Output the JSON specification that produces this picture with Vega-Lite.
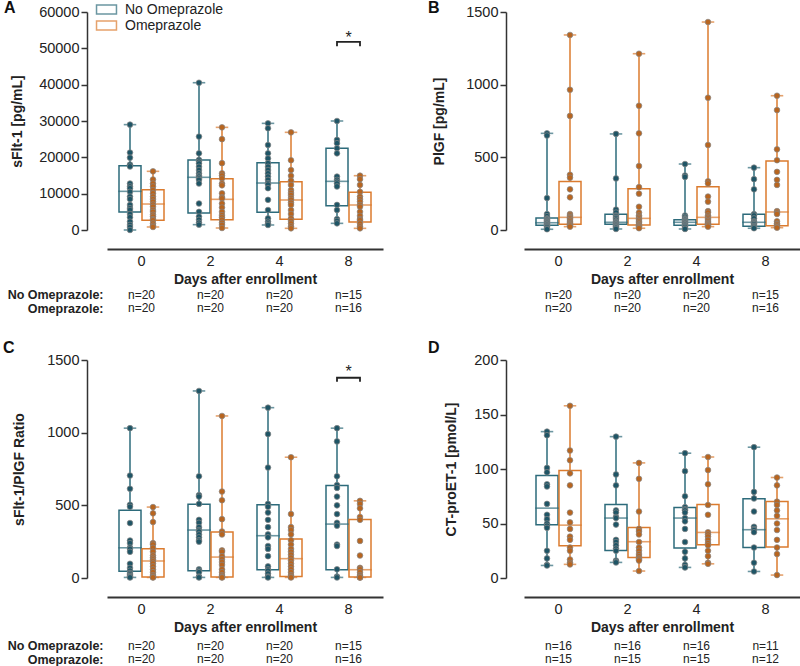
{
"$schema": "https://vega.github.io/schema/vega-lite/v6.json",
"padding": {"left": 3, "top": 0, "right": 0, "bottom": 0},
"autosize": {"type": "pad"},
"datasets": {
"boxes": [
{"panel":"A","day":"0","group":"No Omeprazole","min":0,"q1":4950,"median":10640,"q3":17700,"max":29000,"nlabel":"n=20"},
{"panel":"A","day":"0","group":"Omeprazole","min":830,"q1":2660,"median":7150,"q3":11100,"max":16150,"nlabel":"n=20"},
{"panel":"A","day":"2","group":"No Omeprazole","min":1470,"q1":4680,"median":14500,"q3":19260,"max":40540,"nlabel":"n=20"},
{"panel":"A","day":"2","group":"Omeprazole","min":550,"q1":2840,"median":8440,"q3":14130,"max":28250,"nlabel":"n=20"},
{"panel":"A","day":"4","group":"No Omeprazole","min":1380,"q1":4860,"median":12930,"q3":18530,"max":29350,"nlabel":"n=20"},
{"panel":"A","day":"4","group":"Omeprazole","min":460,"q1":2940,"median":8260,"q3":13300,"max":26880,"nlabel":"n=20"},
{"panel":"A","day":"8","group":"No Omeprazole","min":1830,"q1":6700,"median":13390,"q3":22480,"max":30000,"nlabel":"n=15"},
{"panel":"A","day":"8","group":"Omeprazole","min":460,"q1":2200,"median":6880,"q3":10370,"max":14950,"nlabel":"n=16"},
{"panel":"B","day":"0","group":"No Omeprazole","min":5,"q1":32,"median":50,"q3":83,"max":665,"nlabel":"n=20"},
{"panel":"B","day":"0","group":"Omeprazole","min":23,"q1":39,"median":87,"q3":333,"max":1342,"nlabel":"n=20"},
{"panel":"B","day":"2","group":"No Omeprazole","min":7,"q1":39,"median":53,"q3":108,"max":661,"nlabel":"n=20"},
{"panel":"B","day":"2","group":"Omeprazole","min":12,"q1":34,"median":80,"q3":284,"max":1213,"nlabel":"n=20"},
{"panel":"B","day":"4","group":"No Omeprazole","min":7,"q1":32,"median":53,"q3":71,"max":454,"nlabel":"n=20"},
{"panel":"B","day":"4","group":"Omeprazole","min":23,"q1":39,"median":87,"q3":298,"max":1431,"nlabel":"n=20"},
{"panel":"B","day":"8","group":"No Omeprazole","min":12,"q1":25,"median":53,"q3":108,"max":429,"nlabel":"n=15"},
{"panel":"B","day":"8","group":"Omeprazole","min":16,"q1":30,"median":124,"q3":475,"max":924,"nlabel":"n=16"},
{"panel":"C","day":"0","group":"No Omeprazole","min":4,"q1":46,"median":208,"q3":467,"max":1031,"nlabel":"n=20"},
{"panel":"C","day":"0","group":"Omeprazole","min":4,"q1":7,"median":117,"q3":201,"max":488,"nlabel":"n=20"},
{"panel":"C","day":"2","group":"No Omeprazole","min":4,"q1":50,"median":330,"q3":508,"max":1287,"nlabel":"n=20"},
{"panel":"C","day":"2","group":"Omeprazole","min":4,"q1":7,"median":144,"q3":316,"max":1115,"nlabel":"n=20"},
{"panel":"C","day":"4","group":"No Omeprazole","min":4,"q1":57,"median":291,"q3":504,"max":1172,"nlabel":"n=20"},
{"panel":"C","day":"4","group":"Omeprazole","min":4,"q1":11,"median":133,"q3":268,"max":831,"nlabel":"n=20"},
{"panel":"C","day":"8","group":"No Omeprazole","min":4,"q1":57,"median":371,"q3":636,"max":1031,"nlabel":"n=15"},
{"panel":"C","day":"8","group":"Omeprazole","min":4,"q1":7,"median":57,"q3":403,"max":531,"nlabel":"n=16"},
{"panel":"D","day":"0","group":"No Omeprazole","min":11.5,"q1":48.8,"median":64.1,"q3":94,"max":134.3,"nlabel":"n=16"},
{"panel":"D","day":"0","group":"Omeprazole","min":12.5,"q1":29.6,"median":48.5,"q3":98.6,"max":158,"nlabel":"n=15"},
{"panel":"D","day":"2","group":"No Omeprazole","min":14.3,"q1":25.3,"median":55,"q3":67.4,"max":129.7,"nlabel":"n=16"},
{"panel":"D","day":"2","group":"Omeprazole","min":6.4,"q1":18.9,"median":33.3,"q3":46.4,"max":105.6,"nlabel":"n=15"},
{"panel":"D","day":"4","group":"No Omeprazole","min":9.7,"q1":27.5,"median":55,"q3":64.7,"max":114.5,"nlabel":"n=16"},
{"panel":"D","day":"4","group":"Omeprazole","min":13,"q1":30.5,"median":41.8,"q3":67.4,"max":111,"nlabel":"n=15"},
{"panel":"D","day":"8","group":"No Omeprazole","min":6,"q1":28,"median":44.3,"q3":72.7,"max":120,"nlabel":"n=11"},
{"panel":"D","day":"8","group":"Omeprazole","min":2.7,"q1":28.4,"median":54.3,"q3":70.2,"max":92.2,"nlabel":"n=12"}
],
"pts": [
{"panel":"A","day":"0","group":"No Omeprazole","value":29000},{"panel":"A","day":"0","group":"No Omeprazole","value":21300},{"panel":"A","day":"0","group":"No Omeprazole","value":19900},{"panel":"A","day":"0","group":"No Omeprazole","value":18000},{"panel":"A","day":"0","group":"No Omeprazole","value":17500},{"panel":"A","day":"0","group":"No Omeprazole","value":12800},{"panel":"A","day":"0","group":"No Omeprazole","value":12000},{"panel":"A","day":"0","group":"No Omeprazole","value":11500},{"panel":"A","day":"0","group":"No Omeprazole","value":10500},{"panel":"A","day":"0","group":"No Omeprazole","value":9200},{"panel":"A","day":"0","group":"No Omeprazole","value":8500},{"panel":"A","day":"0","group":"No Omeprazole","value":6900},{"panel":"A","day":"0","group":"No Omeprazole","value":6000},{"panel":"A","day":"0","group":"No Omeprazole","value":5500},{"panel":"A","day":"0","group":"No Omeprazole","value":4400},{"panel":"A","day":"0","group":"No Omeprazole","value":3500},{"panel":"A","day":"0","group":"No Omeprazole","value":2300},{"panel":"A","day":"0","group":"No Omeprazole","value":1400},{"panel":"A","day":"0","group":"No Omeprazole","value":800},{"panel":"A","day":"0","group":"No Omeprazole","value":0},
{"panel":"A","day":"0","group":"Omeprazole","value":16150},{"panel":"A","day":"0","group":"Omeprazole","value":13900},{"panel":"A","day":"0","group":"Omeprazole","value":12800},{"panel":"A","day":"0","group":"Omeprazole","value":12000},{"panel":"A","day":"0","group":"Omeprazole","value":11000},{"panel":"A","day":"0","group":"Omeprazole","value":10100},{"panel":"A","day":"0","group":"Omeprazole","value":9200},{"panel":"A","day":"0","group":"Omeprazole","value":8500},{"panel":"A","day":"0","group":"Omeprazole","value":7800},{"panel":"A","day":"0","group":"Omeprazole","value":7000},{"panel":"A","day":"0","group":"Omeprazole","value":6400},{"panel":"A","day":"0","group":"Omeprazole","value":5500},{"panel":"A","day":"0","group":"Omeprazole","value":5000},{"panel":"A","day":"0","group":"Omeprazole","value":4200},{"panel":"A","day":"0","group":"Omeprazole","value":3700},{"panel":"A","day":"0","group":"Omeprazole","value":3000},{"panel":"A","day":"0","group":"Omeprazole","value":2700},{"panel":"A","day":"0","group":"Omeprazole","value":1800},{"panel":"A","day":"0","group":"Omeprazole","value":1200},{"panel":"A","day":"0","group":"Omeprazole","value":830},
{"panel":"A","day":"2","group":"No Omeprazole","value":40540},{"panel":"A","day":"2","group":"No Omeprazole","value":25700},{"panel":"A","day":"2","group":"No Omeprazole","value":21100},{"panel":"A","day":"2","group":"No Omeprazole","value":19300},{"panel":"A","day":"2","group":"No Omeprazole","value":18800},{"panel":"A","day":"2","group":"No Omeprazole","value":18300},{"panel":"A","day":"2","group":"No Omeprazole","value":17400},{"panel":"A","day":"2","group":"No Omeprazole","value":16500},{"panel":"A","day":"2","group":"No Omeprazole","value":15600},{"panel":"A","day":"2","group":"No Omeprazole","value":15000},{"panel":"A","day":"2","group":"No Omeprazole","value":14700},{"panel":"A","day":"2","group":"No Omeprazole","value":14200},{"panel":"A","day":"2","group":"No Omeprazole","value":13800},{"panel":"A","day":"2","group":"No Omeprazole","value":12800},{"panel":"A","day":"2","group":"No Omeprazole","value":7300},{"panel":"A","day":"2","group":"No Omeprazole","value":5000},{"panel":"A","day":"2","group":"No Omeprazole","value":3700},{"panel":"A","day":"2","group":"No Omeprazole","value":2800},{"panel":"A","day":"2","group":"No Omeprazole","value":2000},{"panel":"A","day":"2","group":"No Omeprazole","value":1470},
{"panel":"A","day":"2","group":"Omeprazole","value":28250},{"panel":"A","day":"2","group":"Omeprazole","value":25000},{"panel":"A","day":"2","group":"Omeprazole","value":18400},{"panel":"A","day":"2","group":"Omeprazole","value":15600},{"panel":"A","day":"2","group":"Omeprazole","value":15000},{"panel":"A","day":"2","group":"Omeprazole","value":14200},{"panel":"A","day":"2","group":"Omeprazole","value":12800},{"panel":"A","day":"2","group":"Omeprazole","value":12300},{"panel":"A","day":"2","group":"Omeprazole","value":10100},{"panel":"A","day":"2","group":"Omeprazole","value":9000},{"panel":"A","day":"2","group":"Omeprazole","value":8700},{"panel":"A","day":"2","group":"Omeprazole","value":7300},{"panel":"A","day":"2","group":"Omeprazole","value":6200},{"panel":"A","day":"2","group":"Omeprazole","value":5000},{"panel":"A","day":"2","group":"Omeprazole","value":4100},{"panel":"A","day":"2","group":"Omeprazole","value":3500},{"panel":"A","day":"2","group":"Omeprazole","value":2800},{"panel":"A","day":"2","group":"Omeprazole","value":2000},{"panel":"A","day":"2","group":"Omeprazole","value":1400},{"panel":"A","day":"2","group":"Omeprazole","value":550},
{"panel":"A","day":"4","group":"No Omeprazole","value":29350},{"panel":"A","day":"4","group":"No Omeprazole","value":28000},{"panel":"A","day":"4","group":"No Omeprazole","value":23400},{"panel":"A","day":"4","group":"No Omeprazole","value":21100},{"panel":"A","day":"4","group":"No Omeprazole","value":19700},{"panel":"A","day":"4","group":"No Omeprazole","value":18400},{"panel":"A","day":"4","group":"No Omeprazole","value":17400},{"panel":"A","day":"4","group":"No Omeprazole","value":16500},{"panel":"A","day":"4","group":"No Omeprazole","value":15600},{"panel":"A","day":"4","group":"No Omeprazole","value":14700},{"panel":"A","day":"4","group":"No Omeprazole","value":13800},{"panel":"A","day":"4","group":"No Omeprazole","value":12900},{"panel":"A","day":"4","group":"No Omeprazole","value":12500},{"panel":"A","day":"4","group":"No Omeprazole","value":11500},{"panel":"A","day":"4","group":"No Omeprazole","value":8300},{"panel":"A","day":"4","group":"No Omeprazole","value":5500},{"panel":"A","day":"4","group":"No Omeprazole","value":3200},{"panel":"A","day":"4","group":"No Omeprazole","value":2300},{"panel":"A","day":"4","group":"No Omeprazole","value":1800},{"panel":"A","day":"4","group":"No Omeprazole","value":1380},
{"panel":"A","day":"4","group":"Omeprazole","value":26880},{"panel":"A","day":"4","group":"Omeprazole","value":19200},{"panel":"A","day":"4","group":"Omeprazole","value":16500},{"panel":"A","day":"4","group":"Omeprazole","value":14900},{"panel":"A","day":"4","group":"Omeprazole","value":13600},{"panel":"A","day":"4","group":"Omeprazole","value":12400},{"panel":"A","day":"4","group":"Omeprazole","value":11000},{"panel":"A","day":"4","group":"Omeprazole","value":10200},{"panel":"A","day":"4","group":"Omeprazole","value":9600},{"panel":"A","day":"4","group":"Omeprazole","value":8800},{"panel":"A","day":"4","group":"Omeprazole","value":8300},{"panel":"A","day":"4","group":"Omeprazole","value":7500},{"panel":"A","day":"4","group":"Omeprazole","value":6900},{"panel":"A","day":"4","group":"Omeprazole","value":5500},{"panel":"A","day":"4","group":"Omeprazole","value":4400},{"panel":"A","day":"4","group":"Omeprazole","value":3200},{"panel":"A","day":"4","group":"Omeprazole","value":2500},{"panel":"A","day":"4","group":"Omeprazole","value":1800},{"panel":"A","day":"4","group":"Omeprazole","value":1000},{"panel":"A","day":"4","group":"Omeprazole","value":460},
{"panel":"A","day":"8","group":"No Omeprazole","value":30000},{"panel":"A","day":"8","group":"No Omeprazole","value":24800},{"panel":"A","day":"8","group":"No Omeprazole","value":23900},{"panel":"A","day":"8","group":"No Omeprazole","value":22500},{"panel":"A","day":"8","group":"No Omeprazole","value":21100},{"panel":"A","day":"8","group":"No Omeprazole","value":14700},{"panel":"A","day":"8","group":"No Omeprazole","value":13800},{"panel":"A","day":"8","group":"No Omeprazole","value":13300},{"panel":"A","day":"8","group":"No Omeprazole","value":12800},{"panel":"A","day":"8","group":"No Omeprazole","value":12000},{"panel":"A","day":"8","group":"No Omeprazole","value":6900},{"panel":"A","day":"8","group":"No Omeprazole","value":5500},{"panel":"A","day":"8","group":"No Omeprazole","value":3000},{"panel":"A","day":"8","group":"No Omeprazole","value":2500},{"panel":"A","day":"8","group":"No Omeprazole","value":1830},
{"panel":"A","day":"8","group":"Omeprazole","value":14950},{"panel":"A","day":"8","group":"Omeprazole","value":14000},{"panel":"A","day":"8","group":"Omeprazole","value":12400},{"panel":"A","day":"8","group":"Omeprazole","value":10500},{"panel":"A","day":"8","group":"Omeprazole","value":9200},{"panel":"A","day":"8","group":"Omeprazole","value":8500},{"panel":"A","day":"8","group":"Omeprazole","value":7800},{"panel":"A","day":"8","group":"Omeprazole","value":6900},{"panel":"A","day":"8","group":"Omeprazole","value":6400},{"panel":"A","day":"8","group":"Omeprazole","value":5000},{"panel":"A","day":"8","group":"Omeprazole","value":3900},{"panel":"A","day":"8","group":"Omeprazole","value":3000},{"panel":"A","day":"8","group":"Omeprazole","value":2700},{"panel":"A","day":"8","group":"Omeprazole","value":1800},{"panel":"A","day":"8","group":"Omeprazole","value":1000},{"panel":"A","day":"8","group":"Omeprazole","value":460},
{"panel":"B","day":"0","group":"No Omeprazole","value":665},{"panel":"B","day":"0","group":"No Omeprazole","value":650},{"panel":"B","day":"0","group":"No Omeprazole","value":220},{"panel":"B","day":"0","group":"No Omeprazole","value":110},{"panel":"B","day":"0","group":"No Omeprazole","value":95},{"panel":"B","day":"0","group":"No Omeprazole","value":80},{"panel":"B","day":"0","group":"No Omeprazole","value":75},{"panel":"B","day":"0","group":"No Omeprazole","value":70},{"panel":"B","day":"0","group":"No Omeprazole","value":65},{"panel":"B","day":"0","group":"No Omeprazole","value":60},{"panel":"B","day":"0","group":"No Omeprazole","value":55},{"panel":"B","day":"0","group":"No Omeprazole","value":50},{"panel":"B","day":"0","group":"No Omeprazole","value":45},{"panel":"B","day":"0","group":"No Omeprazole","value":40},{"panel":"B","day":"0","group":"No Omeprazole","value":35},{"panel":"B","day":"0","group":"No Omeprazole","value":30},{"panel":"B","day":"0","group":"No Omeprazole","value":25},{"panel":"B","day":"0","group":"No Omeprazole","value":20},{"panel":"B","day":"0","group":"No Omeprazole","value":10},{"panel":"B","day":"0","group":"No Omeprazole","value":5},
{"panel":"B","day":"0","group":"Omeprazole","value":1342},{"panel":"B","day":"0","group":"Omeprazole","value":965},{"panel":"B","day":"0","group":"Omeprazole","value":785},{"panel":"B","day":"0","group":"Omeprazole","value":380},{"panel":"B","day":"0","group":"Omeprazole","value":360},{"panel":"B","day":"0","group":"Omeprazole","value":280},{"panel":"B","day":"0","group":"Omeprazole","value":225},{"panel":"B","day":"0","group":"Omeprazole","value":110},{"panel":"B","day":"0","group":"Omeprazole","value":100},{"panel":"B","day":"0","group":"Omeprazole","value":90},{"panel":"B","day":"0","group":"Omeprazole","value":85},{"panel":"B","day":"0","group":"Omeprazole","value":80},{"panel":"B","day":"0","group":"Omeprazole","value":70},{"panel":"B","day":"0","group":"Omeprazole","value":60},{"panel":"B","day":"0","group":"Omeprazole","value":50},{"panel":"B","day":"0","group":"Omeprazole","value":45},{"panel":"B","day":"0","group":"Omeprazole","value":40},{"panel":"B","day":"0","group":"Omeprazole","value":35},{"panel":"B","day":"0","group":"Omeprazole","value":30},{"panel":"B","day":"0","group":"Omeprazole","value":23},
{"panel":"B","day":"2","group":"No Omeprazole","value":661},{"panel":"B","day":"2","group":"No Omeprazole","value":355},{"panel":"B","day":"2","group":"No Omeprazole","value":140},{"panel":"B","day":"2","group":"No Omeprazole","value":120},{"panel":"B","day":"2","group":"No Omeprazole","value":100},{"panel":"B","day":"2","group":"No Omeprazole","value":95},{"panel":"B","day":"2","group":"No Omeprazole","value":85},{"panel":"B","day":"2","group":"No Omeprazole","value":80},{"panel":"B","day":"2","group":"No Omeprazole","value":70},{"panel":"B","day":"2","group":"No Omeprazole","value":60},{"panel":"B","day":"2","group":"No Omeprazole","value":55},{"panel":"B","day":"2","group":"No Omeprazole","value":50},{"panel":"B","day":"2","group":"No Omeprazole","value":45},{"panel":"B","day":"2","group":"No Omeprazole","value":40},{"panel":"B","day":"2","group":"No Omeprazole","value":35},{"panel":"B","day":"2","group":"No Omeprazole","value":30},{"panel":"B","day":"2","group":"No Omeprazole","value":25},{"panel":"B","day":"2","group":"No Omeprazole","value":20},{"panel":"B","day":"2","group":"No Omeprazole","value":15},{"panel":"B","day":"2","group":"No Omeprazole","value":7},
{"panel":"B","day":"2","group":"Omeprazole","value":1213},{"panel":"B","day":"2","group":"Omeprazole","value":855},{"panel":"B","day":"2","group":"Omeprazole","value":665},{"panel":"B","day":"2","group":"Omeprazole","value":440},{"panel":"B","day":"2","group":"Omeprazole","value":295},{"panel":"B","day":"2","group":"Omeprazole","value":250},{"panel":"B","day":"2","group":"Omeprazole","value":160},{"panel":"B","day":"2","group":"Omeprazole","value":120},{"panel":"B","day":"2","group":"Omeprazole","value":100},{"panel":"B","day":"2","group":"Omeprazole","value":90},{"panel":"B","day":"2","group":"Omeprazole","value":80},{"panel":"B","day":"2","group":"Omeprazole","value":70},{"panel":"B","day":"2","group":"Omeprazole","value":60},{"panel":"B","day":"2","group":"Omeprazole","value":50},{"panel":"B","day":"2","group":"Omeprazole","value":40},{"panel":"B","day":"2","group":"Omeprazole","value":35},{"panel":"B","day":"2","group":"Omeprazole","value":30},{"panel":"B","day":"2","group":"Omeprazole","value":25},{"panel":"B","day":"2","group":"Omeprazole","value":20},{"panel":"B","day":"2","group":"Omeprazole","value":12},
{"panel":"B","day":"4","group":"No Omeprazole","value":454},{"panel":"B","day":"4","group":"No Omeprazole","value":375},{"panel":"B","day":"4","group":"No Omeprazole","value":365},{"panel":"B","day":"4","group":"No Omeprazole","value":100},{"panel":"B","day":"4","group":"No Omeprazole","value":90},{"panel":"B","day":"4","group":"No Omeprazole","value":80},{"panel":"B","day":"4","group":"No Omeprazole","value":75},{"panel":"B","day":"4","group":"No Omeprazole","value":70},{"panel":"B","day":"4","group":"No Omeprazole","value":65},{"panel":"B","day":"4","group":"No Omeprazole","value":60},{"panel":"B","day":"4","group":"No Omeprazole","value":55},{"panel":"B","day":"4","group":"No Omeprazole","value":50},{"panel":"B","day":"4","group":"No Omeprazole","value":45},{"panel":"B","day":"4","group":"No Omeprazole","value":40},{"panel":"B","day":"4","group":"No Omeprazole","value":35},{"panel":"B","day":"4","group":"No Omeprazole","value":30},{"panel":"B","day":"4","group":"No Omeprazole","value":25},{"panel":"B","day":"4","group":"No Omeprazole","value":20},{"panel":"B","day":"4","group":"No Omeprazole","value":10},{"panel":"B","day":"4","group":"No Omeprazole","value":7},
{"panel":"B","day":"4","group":"Omeprazole","value":1431},{"panel":"B","day":"4","group":"Omeprazole","value":910},{"panel":"B","day":"4","group":"Omeprazole","value":585},{"panel":"B","day":"4","group":"Omeprazole","value":335},{"panel":"B","day":"4","group":"Omeprazole","value":320},{"panel":"B","day":"4","group":"Omeprazole","value":230},{"panel":"B","day":"4","group":"Omeprazole","value":195},{"panel":"B","day":"4","group":"Omeprazole","value":130},{"panel":"B","day":"4","group":"Omeprazole","value":120},{"panel":"B","day":"4","group":"Omeprazole","value":100},{"panel":"B","day":"4","group":"Omeprazole","value":90},{"panel":"B","day":"4","group":"Omeprazole","value":80},{"panel":"B","day":"4","group":"Omeprazole","value":70},{"panel":"B","day":"4","group":"Omeprazole","value":60},{"panel":"B","day":"4","group":"Omeprazole","value":50},{"panel":"B","day":"4","group":"Omeprazole","value":45},{"panel":"B","day":"4","group":"Omeprazole","value":40},{"panel":"B","day":"4","group":"Omeprazole","value":35},{"panel":"B","day":"4","group":"Omeprazole","value":30},{"panel":"B","day":"4","group":"Omeprazole","value":23},
{"panel":"B","day":"8","group":"No Omeprazole","value":429},{"panel":"B","day":"8","group":"No Omeprazole","value":350},{"panel":"B","day":"8","group":"No Omeprazole","value":280},{"panel":"B","day":"8","group":"No Omeprazole","value":110},{"panel":"B","day":"8","group":"No Omeprazole","value":100},{"panel":"B","day":"8","group":"No Omeprazole","value":80},{"panel":"B","day":"8","group":"No Omeprazole","value":60},{"panel":"B","day":"8","group":"No Omeprazole","value":55},{"panel":"B","day":"8","group":"No Omeprazole","value":50},{"panel":"B","day":"8","group":"No Omeprazole","value":45},{"panel":"B","day":"8","group":"No Omeprazole","value":40},{"panel":"B","day":"8","group":"No Omeprazole","value":30},{"panel":"B","day":"8","group":"No Omeprazole","value":25},{"panel":"B","day":"8","group":"No Omeprazole","value":20},{"panel":"B","day":"8","group":"No Omeprazole","value":12},
{"panel":"B","day":"8","group":"Omeprazole","value":924},{"panel":"B","day":"8","group":"Omeprazole","value":825},{"panel":"B","day":"8","group":"Omeprazole","value":555},{"panel":"B","day":"8","group":"Omeprazole","value":480},{"panel":"B","day":"8","group":"Omeprazole","value":400},{"panel":"B","day":"8","group":"Omeprazole","value":345},{"panel":"B","day":"8","group":"Omeprazole","value":310},{"panel":"B","day":"8","group":"Omeprazole","value":130},{"panel":"B","day":"8","group":"Omeprazole","value":120},{"panel":"B","day":"8","group":"Omeprazole","value":110},{"panel":"B","day":"8","group":"Omeprazole","value":60},{"panel":"B","day":"8","group":"Omeprazole","value":45},{"panel":"B","day":"8","group":"Omeprazole","value":40},{"panel":"B","day":"8","group":"Omeprazole","value":30},{"panel":"B","day":"8","group":"Omeprazole","value":20},{"panel":"B","day":"8","group":"Omeprazole","value":16},
{"panel":"C","day":"0","group":"No Omeprazole","value":1031},{"panel":"C","day":"0","group":"No Omeprazole","value":705},{"panel":"C","day":"0","group":"No Omeprazole","value":614},{"panel":"C","day":"0","group":"No Omeprazole","value":504},{"panel":"C","day":"0","group":"No Omeprazole","value":490},{"panel":"C","day":"0","group":"No Omeprazole","value":378},{"panel":"C","day":"0","group":"No Omeprazole","value":258},{"panel":"C","day":"0","group":"No Omeprazole","value":240},{"panel":"C","day":"0","group":"No Omeprazole","value":210},{"panel":"C","day":"0","group":"No Omeprazole","value":200},{"panel":"C","day":"0","group":"No Omeprazole","value":180},{"panel":"C","day":"0","group":"No Omeprazole","value":98},{"panel":"C","day":"0","group":"No Omeprazole","value":69},{"panel":"C","day":"0","group":"No Omeprazole","value":50},{"panel":"C","day":"0","group":"No Omeprazole","value":34},{"panel":"C","day":"0","group":"No Omeprazole","value":25},{"panel":"C","day":"0","group":"No Omeprazole","value":15},{"panel":"C","day":"0","group":"No Omeprazole","value":10},{"panel":"C","day":"0","group":"No Omeprazole","value":6},{"panel":"C","day":"0","group":"No Omeprazole","value":4},
{"panel":"C","day":"0","group":"Omeprazole","value":488},{"panel":"C","day":"0","group":"Omeprazole","value":445},{"panel":"C","day":"0","group":"Omeprazole","value":385},{"panel":"C","day":"0","group":"Omeprazole","value":240},{"panel":"C","day":"0","group":"Omeprazole","value":230},{"panel":"C","day":"0","group":"Omeprazole","value":208},{"panel":"C","day":"0","group":"Omeprazole","value":181},{"panel":"C","day":"0","group":"Omeprazole","value":155},{"panel":"C","day":"0","group":"Omeprazole","value":140},{"panel":"C","day":"0","group":"Omeprazole","value":128},{"panel":"C","day":"0","group":"Omeprazole","value":115},{"panel":"C","day":"0","group":"Omeprazole","value":100},{"panel":"C","day":"0","group":"Omeprazole","value":80},{"panel":"C","day":"0","group":"Omeprazole","value":59},{"panel":"C","day":"0","group":"Omeprazole","value":40},{"panel":"C","day":"0","group":"Omeprazole","value":20},{"panel":"C","day":"0","group":"Omeprazole","value":10},{"panel":"C","day":"0","group":"Omeprazole","value":6},{"panel":"C","day":"0","group":"Omeprazole","value":5},{"panel":"C","day":"0","group":"Omeprazole","value":4},
{"panel":"C","day":"2","group":"No Omeprazole","value":1287},{"panel":"C","day":"2","group":"No Omeprazole","value":700},{"panel":"C","day":"2","group":"No Omeprazole","value":570},{"panel":"C","day":"2","group":"No Omeprazole","value":560},{"panel":"C","day":"2","group":"No Omeprazole","value":510},{"panel":"C","day":"2","group":"No Omeprazole","value":400},{"panel":"C","day":"2","group":"No Omeprazole","value":380},{"panel":"C","day":"2","group":"No Omeprazole","value":350},{"panel":"C","day":"2","group":"No Omeprazole","value":330},{"panel":"C","day":"2","group":"No Omeprazole","value":320},{"panel":"C","day":"2","group":"No Omeprazole","value":300},{"panel":"C","day":"2","group":"No Omeprazole","value":280},{"panel":"C","day":"2","group":"No Omeprazole","value":260},{"panel":"C","day":"2","group":"No Omeprazole","value":250},{"panel":"C","day":"2","group":"No Omeprazole","value":60},{"panel":"C","day":"2","group":"No Omeprazole","value":50},{"panel":"C","day":"2","group":"No Omeprazole","value":40},{"panel":"C","day":"2","group":"No Omeprazole","value":10},{"panel":"C","day":"2","group":"No Omeprazole","value":6},{"panel":"C","day":"2","group":"No Omeprazole","value":4},
{"panel":"C","day":"2","group":"Omeprazole","value":1115},{"panel":"C","day":"2","group":"Omeprazole","value":595},{"panel":"C","day":"2","group":"Omeprazole","value":535},{"panel":"C","day":"2","group":"Omeprazole","value":405},{"panel":"C","day":"2","group":"Omeprazole","value":320},{"panel":"C","day":"2","group":"Omeprazole","value":300},{"panel":"C","day":"2","group":"Omeprazole","value":190},{"panel":"C","day":"2","group":"Omeprazole","value":180},{"panel":"C","day":"2","group":"Omeprazole","value":150},{"panel":"C","day":"2","group":"Omeprazole","value":130},{"panel":"C","day":"2","group":"Omeprazole","value":110},{"panel":"C","day":"2","group":"Omeprazole","value":90},{"panel":"C","day":"2","group":"Omeprazole","value":60},{"panel":"C","day":"2","group":"Omeprazole","value":40},{"panel":"C","day":"2","group":"Omeprazole","value":20},{"panel":"C","day":"2","group":"Omeprazole","value":10},{"panel":"C","day":"2","group":"Omeprazole","value":8},{"panel":"C","day":"2","group":"Omeprazole","value":6},{"panel":"C","day":"2","group":"Omeprazole","value":5},{"panel":"C","day":"2","group":"Omeprazole","value":4},
{"panel":"C","day":"4","group":"No Omeprazole","value":1172},{"panel":"C","day":"4","group":"No Omeprazole","value":990},{"panel":"C","day":"4","group":"No Omeprazole","value":760},{"panel":"C","day":"4","group":"No Omeprazole","value":510},{"panel":"C","day":"4","group":"No Omeprazole","value":490},{"panel":"C","day":"4","group":"No Omeprazole","value":450},{"panel":"C","day":"4","group":"No Omeprazole","value":400},{"panel":"C","day":"4","group":"No Omeprazole","value":350},{"panel":"C","day":"4","group":"No Omeprazole","value":300},{"panel":"C","day":"4","group":"No Omeprazole","value":280},{"panel":"C","day":"4","group":"No Omeprazole","value":220},{"panel":"C","day":"4","group":"No Omeprazole","value":200},{"panel":"C","day":"4","group":"No Omeprazole","value":150},{"panel":"C","day":"4","group":"No Omeprazole","value":80},{"panel":"C","day":"4","group":"No Omeprazole","value":60},{"panel":"C","day":"4","group":"No Omeprazole","value":50},{"panel":"C","day":"4","group":"No Omeprazole","value":30},{"panel":"C","day":"4","group":"No Omeprazole","value":10},{"panel":"C","day":"4","group":"No Omeprazole","value":6},{"panel":"C","day":"4","group":"No Omeprazole","value":4},
{"panel":"C","day":"4","group":"Omeprazole","value":831},{"panel":"C","day":"4","group":"Omeprazole","value":440},{"panel":"C","day":"4","group":"Omeprazole","value":350},{"panel":"C","day":"4","group":"Omeprazole","value":330},{"panel":"C","day":"4","group":"Omeprazole","value":300},{"panel":"C","day":"4","group":"Omeprazole","value":260},{"panel":"C","day":"4","group":"Omeprazole","value":230},{"panel":"C","day":"4","group":"Omeprazole","value":200},{"panel":"C","day":"4","group":"Omeprazole","value":180},{"panel":"C","day":"4","group":"Omeprazole","value":160},{"panel":"C","day":"4","group":"Omeprazole","value":140},{"panel":"C","day":"4","group":"Omeprazole","value":120},{"panel":"C","day":"4","group":"Omeprazole","value":100},{"panel":"C","day":"4","group":"Omeprazole","value":80},{"panel":"C","day":"4","group":"Omeprazole","value":60},{"panel":"C","day":"4","group":"Omeprazole","value":40},{"panel":"C","day":"4","group":"Omeprazole","value":20},{"panel":"C","day":"4","group":"Omeprazole","value":10},{"panel":"C","day":"4","group":"Omeprazole","value":6},{"panel":"C","day":"4","group":"Omeprazole","value":4},
{"panel":"C","day":"8","group":"No Omeprazole","value":1031},{"panel":"C","day":"8","group":"No Omeprazole","value":940},{"panel":"C","day":"8","group":"No Omeprazole","value":700},{"panel":"C","day":"8","group":"No Omeprazole","value":640},{"panel":"C","day":"8","group":"No Omeprazole","value":620},{"panel":"C","day":"8","group":"No Omeprazole","value":560},{"panel":"C","day":"8","group":"No Omeprazole","value":500},{"panel":"C","day":"8","group":"No Omeprazole","value":440},{"panel":"C","day":"8","group":"No Omeprazole","value":380},{"panel":"C","day":"8","group":"No Omeprazole","value":360},{"panel":"C","day":"8","group":"No Omeprazole","value":230},{"panel":"C","day":"8","group":"No Omeprazole","value":220},{"panel":"C","day":"8","group":"No Omeprazole","value":60},{"panel":"C","day":"8","group":"No Omeprazole","value":10},{"panel":"C","day":"8","group":"No Omeprazole","value":4},
{"panel":"C","day":"8","group":"Omeprazole","value":531},{"panel":"C","day":"8","group":"Omeprazole","value":510},{"panel":"C","day":"8","group":"Omeprazole","value":480},{"panel":"C","day":"8","group":"Omeprazole","value":420},{"panel":"C","day":"8","group":"Omeprazole","value":400},{"panel":"C","day":"8","group":"Omeprazole","value":255},{"panel":"C","day":"8","group":"Omeprazole","value":155},{"panel":"C","day":"8","group":"Omeprazole","value":70},{"panel":"C","day":"8","group":"Omeprazole","value":60},{"panel":"C","day":"8","group":"Omeprazole","value":40},{"panel":"C","day":"8","group":"Omeprazole","value":20},{"panel":"C","day":"8","group":"Omeprazole","value":10},{"panel":"C","day":"8","group":"Omeprazole","value":6},{"panel":"C","day":"8","group":"Omeprazole","value":5},{"panel":"C","day":"8","group":"Omeprazole","value":4},{"panel":"C","day":"8","group":"Omeprazole","value":4},
{"panel":"D","day":"0","group":"No Omeprazole","value":134.3},{"panel":"D","day":"0","group":"No Omeprazole","value":131},{"panel":"D","day":"0","group":"No Omeprazole","value":101},{"panel":"D","day":"0","group":"No Omeprazole","value":97},{"panel":"D","day":"0","group":"No Omeprazole","value":86},{"panel":"D","day":"0","group":"No Omeprazole","value":84},{"panel":"D","day":"0","group":"No Omeprazole","value":68},{"panel":"D","day":"0","group":"No Omeprazole","value":58},{"panel":"D","day":"0","group":"No Omeprazole","value":54},{"panel":"D","day":"0","group":"No Omeprazole","value":50},{"panel":"D","day":"0","group":"No Omeprazole","value":48},{"panel":"D","day":"0","group":"No Omeprazole","value":46},{"panel":"D","day":"0","group":"No Omeprazole","value":25},{"panel":"D","day":"0","group":"No Omeprazole","value":18},{"panel":"D","day":"0","group":"No Omeprazole","value":12},{"panel":"D","day":"0","group":"No Omeprazole","value":11.5},
{"panel":"D","day":"0","group":"Omeprazole","value":158},{"panel":"D","day":"0","group":"Omeprazole","value":117},{"panel":"D","day":"0","group":"Omeprazole","value":108},{"panel":"D","day":"0","group":"Omeprazole","value":96},{"panel":"D","day":"0","group":"Omeprazole","value":85},{"panel":"D","day":"0","group":"Omeprazole","value":60},{"panel":"D","day":"0","group":"Omeprazole","value":51},{"panel":"D","day":"0","group":"Omeprazole","value":45},{"panel":"D","day":"0","group":"Omeprazole","value":38},{"panel":"D","day":"0","group":"Omeprazole","value":35},{"panel":"D","day":"0","group":"Omeprazole","value":28},{"panel":"D","day":"0","group":"Omeprazole","value":25},{"panel":"D","day":"0","group":"Omeprazole","value":17},{"panel":"D","day":"0","group":"Omeprazole","value":14},{"panel":"D","day":"0","group":"Omeprazole","value":12.5},
{"panel":"D","day":"2","group":"No Omeprazole","value":129.7},{"panel":"D","day":"2","group":"No Omeprazole","value":95},{"panel":"D","day":"2","group":"No Omeprazole","value":85},{"panel":"D","day":"2","group":"No Omeprazole","value":62},{"panel":"D","day":"2","group":"No Omeprazole","value":60},{"panel":"D","day":"2","group":"No Omeprazole","value":56},{"panel":"D","day":"2","group":"No Omeprazole","value":55},{"panel":"D","day":"2","group":"No Omeprazole","value":49},{"panel":"D","day":"2","group":"No Omeprazole","value":35},{"panel":"D","day":"2","group":"No Omeprazole","value":33},{"panel":"D","day":"2","group":"No Omeprazole","value":30},{"panel":"D","day":"2","group":"No Omeprazole","value":27},{"panel":"D","day":"2","group":"No Omeprazole","value":25},{"panel":"D","day":"2","group":"No Omeprazole","value":16},{"panel":"D","day":"2","group":"No Omeprazole","value":15},{"panel":"D","day":"2","group":"No Omeprazole","value":14.3},
{"panel":"D","day":"2","group":"Omeprazole","value":105.6},{"panel":"D","day":"2","group":"Omeprazole","value":91},{"panel":"D","day":"2","group":"Omeprazole","value":61},{"panel":"D","day":"2","group":"Omeprazole","value":45},{"panel":"D","day":"2","group":"Omeprazole","value":43},{"panel":"D","day":"2","group":"Omeprazole","value":40},{"panel":"D","day":"2","group":"Omeprazole","value":33},{"panel":"D","day":"2","group":"Omeprazole","value":28},{"panel":"D","day":"2","group":"Omeprazole","value":25},{"panel":"D","day":"2","group":"Omeprazole","value":22},{"panel":"D","day":"2","group":"Omeprazole","value":20},{"panel":"D","day":"2","group":"Omeprazole","value":18},{"panel":"D","day":"2","group":"Omeprazole","value":17},{"panel":"D","day":"2","group":"Omeprazole","value":16},{"panel":"D","day":"2","group":"Omeprazole","value":6.4},
{"panel":"D","day":"4","group":"No Omeprazole","value":114.5},{"panel":"D","day":"4","group":"No Omeprazole","value":98},{"panel":"D","day":"4","group":"No Omeprazole","value":75},{"panel":"D","day":"4","group":"No Omeprazole","value":65},{"panel":"D","day":"4","group":"No Omeprazole","value":63},{"panel":"D","day":"4","group":"No Omeprazole","value":62},{"panel":"D","day":"4","group":"No Omeprazole","value":60},{"panel":"D","day":"4","group":"No Omeprazole","value":55},{"panel":"D","day":"4","group":"No Omeprazole","value":52},{"panel":"D","day":"4","group":"No Omeprazole","value":45},{"panel":"D","day":"4","group":"No Omeprazole","value":33},{"panel":"D","day":"4","group":"No Omeprazole","value":24},{"panel":"D","day":"4","group":"No Omeprazole","value":18},{"panel":"D","day":"4","group":"No Omeprazole","value":12},{"panel":"D","day":"4","group":"No Omeprazole","value":10},{"panel":"D","day":"4","group":"No Omeprazole","value":9.7},
{"panel":"D","day":"4","group":"Omeprazole","value":111},{"panel":"D","day":"4","group":"Omeprazole","value":99},{"panel":"D","day":"4","group":"Omeprazole","value":86},{"panel":"D","day":"4","group":"Omeprazole","value":67},{"panel":"D","day":"4","group":"Omeprazole","value":58},{"panel":"D","day":"4","group":"Omeprazole","value":42},{"panel":"D","day":"4","group":"Omeprazole","value":40},{"panel":"D","day":"4","group":"Omeprazole","value":38},{"panel":"D","day":"4","group":"Omeprazole","value":35},{"panel":"D","day":"4","group":"Omeprazole","value":32},{"panel":"D","day":"4","group":"Omeprazole","value":30},{"panel":"D","day":"4","group":"Omeprazole","value":25},{"panel":"D","day":"4","group":"Omeprazole","value":20},{"panel":"D","day":"4","group":"Omeprazole","value":14},{"panel":"D","day":"4","group":"Omeprazole","value":13},
{"panel":"D","day":"8","group":"No Omeprazole","value":120},{"panel":"D","day":"8","group":"No Omeprazole","value":79},{"panel":"D","day":"8","group":"No Omeprazole","value":73},{"panel":"D","day":"8","group":"No Omeprazole","value":61},{"panel":"D","day":"8","group":"No Omeprazole","value":47},{"panel":"D","day":"8","group":"No Omeprazole","value":45},{"panel":"D","day":"8","group":"No Omeprazole","value":44},{"panel":"D","day":"8","group":"No Omeprazole","value":42},{"panel":"D","day":"8","group":"No Omeprazole","value":28},{"panel":"D","day":"8","group":"No Omeprazole","value":14},{"panel":"D","day":"8","group":"No Omeprazole","value":6},
{"panel":"D","day":"8","group":"Omeprazole","value":92.2},{"panel":"D","day":"8","group":"Omeprazole","value":85},{"panel":"D","day":"8","group":"Omeprazole","value":70},{"panel":"D","day":"8","group":"Omeprazole","value":67},{"panel":"D","day":"8","group":"Omeprazole","value":62},{"panel":"D","day":"8","group":"Omeprazole","value":57},{"panel":"D","day":"8","group":"Omeprazole","value":50},{"panel":"D","day":"8","group":"Omeprazole","value":44},{"panel":"D","day":"8","group":"Omeprazole","value":35},{"panel":"D","day":"8","group":"Omeprazole","value":28},{"panel":"D","day":"8","group":"Omeprazole","value":22},{"panel":"D","day":"8","group":"Omeprazole","value":2.7}
],
"sig": [
{"panel":"A","day":"8","group":"No Omeprazole","value":50600,"ord":1},
{"panel":"A","day":"8","group":"No Omeprazole","value":51800,"ord":2},
{"panel":"A","day":"8","group":"Omeprazole","value":51800,"ord":3},
{"panel":"A","day":"8","group":"Omeprazole","value":50600,"ord":4},
{"panel":"C","day":"8","group":"No Omeprazole","value":1351,"ord":1},
{"panel":"C","day":"8","group":"No Omeprazole","value":1378,"ord":2},
{"panel":"C","day":"8","group":"Omeprazole","value":1378,"ord":3},
{"panel":"C","day":"8","group":"Omeprazole","value":1351,"ord":4}
],
"stars": [
{"panel":"A","day":"8","value":51600,"label":"*"},
{"panel":"C","day":"8","value":1380,"label":"*"}
]
},
"spacing": 25,
"vconcat": [
{"hconcat": [
{"spacing": 1, "vconcat": [
{"width": 276, "height": 218,
 "title": {"text": "A", "dx": -103, "offset": -12},
 "encoding": {"x": {"field": "day", "type": "nominal", "scale": {"domain": ["0","2","4","8"], "paddingInner": 0, "paddingOuter": 0}, "axis": {"title": "Days after enrollment", "labelAngle": 0, "offset": 19, "domain": true, "domainColor": "#333", "domainWidth": 1.8, "domainOpacity": 1, "ticks": false, "labelPadding": 5, "titlePadding": 5}}},
 "layer": [
  {"data": {"name": "boxes"}, "transform": [{"filter": "datum.panel === 'A'"}], "mark": {"type": "rule", "strokeWidth": 1.5},
   "encoding": {"xOffset": {"field": "group", "type": "nominal", "scale": {"paddingInner": 0, "paddingOuter": 0.5}},
    "y": {"field": "min", "type": "quantitative", "scale": {"domain": [0, 60000], "nice": false}, "axis": {"title": "sFlt-1 [pg/mL]", "values": [0,10000,20000,30000,40000,50000,60000], "tickCount": 7, "labelOverlap": false, "format": "d", "offset": 20, "tickSize": 6, "labelPadding": 2, "titlePadding": 14}},
    "y2": {"field": "max"},
    "color": {"field": "group", "type": "nominal", "title": null}}},
  {"data": {"name": "boxes"}, "transform": [{"filter": "datum.panel === 'A'"}, {"fold": ["min", "max"], "as": ["stat", "v"]}], "mark": {"type": "tick", "filled": false, "size": 11, "thickness": 0.1, "strokeWidth": 1.5},
   "encoding": {"xOffset": {"field": "group", "type": "nominal"}, "y": {"field": "v", "type": "quantitative", "axis": {"title": "sFlt-1 [pg/mL]", "values": [0,10000,20000,30000,40000,50000,60000], "tickCount": 7, "labelOverlap": false, "format": "d", "offset": 20, "tickSize": 6, "labelPadding": 2, "titlePadding": 14}}, "color": {"field": "group", "type": "nominal", "title": null}}},
  {"data": {"name": "boxes"}, "transform": [{"filter": "datum.panel === 'A'"}], "mark": {"type": "bar", "filled": false, "fill": "white", "width": 22, "strokeWidth": 1.5},
   "encoding": {"xOffset": {"field": "group", "type": "nominal"}, "y": {"field": "q1", "type": "quantitative", "axis": {"title": "sFlt-1 [pg/mL]", "values": [0,10000,20000,30000,40000,50000,60000], "tickCount": 7, "labelOverlap": false, "format": "d", "offset": 20, "tickSize": 6, "labelPadding": 2, "titlePadding": 14}}, "y2": {"field": "q3"}, "color": {"field": "group", "type": "nominal", "title": null}}},
  {"data": {"name": "boxes"}, "transform": [{"filter": "datum.panel === 'A'"}], "mark": {"type": "tick", "filled": false, "size": 22, "thickness": 0.1, "strokeWidth": 1.5},
   "encoding": {"xOffset": {"field": "group", "type": "nominal"}, "y": {"field": "median", "type": "quantitative", "axis": {"title": "sFlt-1 [pg/mL]", "values": [0,10000,20000,30000,40000,50000,60000], "tickCount": 7, "labelOverlap": false, "format": "d", "offset": 20, "tickSize": 6, "labelPadding": 2, "titlePadding": 14}}, "color": {"field": "group", "type": "nominal", "title": null}}},
  {"data": {"name": "pts"}, "transform": [{"filter": "datum.panel === 'A'"}], "mark": {"type": "circle", "size": 32, "stroke": "#868686", "strokeWidth": 0.7, "opacity": 1},
   "encoding": {"xOffset": {"field": "group", "type": "nominal"}, "y": {"field": "value", "type": "quantitative", "axis": {"title": "sFlt-1 [pg/mL]", "values": [0,10000,20000,30000,40000,50000,60000], "tickCount": 7, "labelOverlap": false, "format": "d", "offset": 20, "tickSize": 6, "labelPadding": 2, "titlePadding": 14}}, "fill": {"field": "group", "type": "nominal", "scale": {"range": ["#1f5566", "#b8651f"]}, "legend": null}}},
  {"data": {"name": "sig"}, "transform": [{"filter": "datum.panel === 'A'"}], "mark": {"type": "line", "color": "#222", "strokeWidth": 1.8},
   "encoding": {"xOffset": {"field": "group", "type": "nominal"}, "y": {"field": "value", "type": "quantitative", "axis": {"title": "sFlt-1 [pg/mL]", "values": [0,10000,20000,30000,40000,50000,60000], "tickCount": 7, "labelOverlap": false, "format": "d", "offset": 20, "tickSize": 6, "labelPadding": 2, "titlePadding": 14}}, "order": {"field": "ord", "type": "quantitative"}}},
  {"data": {"name": "stars"}, "transform": [{"filter": "datum.panel === 'A'"}], "mark": {"type": "text", "fontSize": 16, "baseline": "alphabetic", "color": "#222"},
   "encoding": {"y": {"field": "value", "type": "quantitative", "axis": {"title": "sFlt-1 [pg/mL]", "values": [0,10000,20000,30000,40000,50000,60000], "tickCount": 7, "labelOverlap": false, "format": "d", "offset": 20, "tickSize": 6, "labelPadding": 2, "titlePadding": 14}}, "text": {"field": "label"}}}
 ]},
{"width": 276, "height": {"step": 13.5},
 "data": {"name": "boxes"}, "transform": [{"filter": "datum.panel === 'A'"}],
 "mark": {"type": "text", "fontSize": 12, "color": "#222"},
 "encoding": {
  "x": {"field": "day", "type": "nominal", "scale": {"domain": ["0","2","4","8"], "paddingInner": 0, "paddingOuter": 0}, "axis": null},
  "y": {"field": "group", "type": "nominal", "axis": {"title": null, "domain": false, "ticks": false, "tickSize": 0, "labelFontWeight": "bold", "labelFontSize": 12.5, "labelPadding": 4, "labelExpr": "datum.label + ':'"}},
  "text": {"field": "nlabel"}}}
]},
{"spacing": 1, "vconcat": [
{"width": 276, "height": 218,
 "title": {"text": "B", "dx": -96, "offset": -12},
 "encoding": {"x": {"field": "day", "type": "nominal", "scale": {"domain": ["0","2","4","8"], "paddingInner": 0, "paddingOuter": 0}, "axis": {"title": "Days after enrollment", "labelAngle": 0, "offset": 19, "domain": true, "domainColor": "#333", "domainWidth": 1.8, "domainOpacity": 1, "ticks": false, "labelPadding": 5, "titlePadding": 5}}},
 "layer": [
  {"data": {"name": "boxes"}, "transform": [{"filter": "datum.panel === 'B'"}], "mark": {"type": "rule", "strokeWidth": 1.5},
   "encoding": {"xOffset": {"field": "group", "type": "nominal", "scale": {"paddingInner": 0, "paddingOuter": 0.5}},
    "y": {"field": "min", "type": "quantitative", "scale": {"domain": [0, 1500], "nice": false}, "axis": {"title": "PlGF [pg/mL]", "values": [0,500,1000,1500], "labelOverlap": false, "format": "d", "offset": 18, "tickSize": 6, "labelPadding": 2, "titlePadding": 19}},
    "y2": {"field": "max"},
    "color": {"field": "group", "type": "nominal", "title": null}}},
  {"data": {"name": "boxes"}, "transform": [{"filter": "datum.panel === 'B'"}, {"fold": ["min", "max"], "as": ["stat", "v"]}], "mark": {"type": "tick", "filled": false, "size": 11, "thickness": 0.1, "strokeWidth": 1.5},
   "encoding": {"xOffset": {"field": "group", "type": "nominal"}, "y": {"field": "v", "type": "quantitative"}, "color": {"field": "group", "type": "nominal", "title": null}}},
  {"data": {"name": "boxes"}, "transform": [{"filter": "datum.panel === 'B'"}], "mark": {"type": "bar", "filled": false, "fill": "white", "width": 22, "strokeWidth": 1.5},
   "encoding": {"xOffset": {"field": "group", "type": "nominal"}, "y": {"field": "q1", "type": "quantitative"}, "y2": {"field": "q3"}, "color": {"field": "group", "type": "nominal", "title": null}}},
  {"data": {"name": "boxes"}, "transform": [{"filter": "datum.panel === 'B'"}], "mark": {"type": "tick", "filled": false, "size": 22, "thickness": 0.1, "strokeWidth": 1.5},
   "encoding": {"xOffset": {"field": "group", "type": "nominal"}, "y": {"field": "median", "type": "quantitative"}, "color": {"field": "group", "type": "nominal", "title": null}}},
  {"data": {"name": "pts"}, "transform": [{"filter": "datum.panel === 'B'"}], "mark": {"type": "circle", "size": 32, "stroke": "#868686", "strokeWidth": 0.7, "opacity": 1},
   "encoding": {"xOffset": {"field": "group", "type": "nominal"}, "y": {"field": "value", "type": "quantitative"}, "fill": {"field": "group", "type": "nominal", "scale": {"range": ["#1f5566", "#b8651f"]}, "legend": null}}}
 ]},
{"width": 276, "height": {"step": 13.5},
 "data": {"name": "boxes"}, "transform": [{"filter": "datum.panel === 'B'"}],
 "mark": {"type": "text", "fontSize": 12, "color": "#222"},
 "encoding": {
  "x": {"field": "day", "type": "nominal", "scale": {"domain": ["0","2","4","8"], "paddingInner": 0, "paddingOuter": 0}, "axis": null},
  "y": {"field": "group", "type": "nominal", "axis": null},
  "text": {"field": "nlabel"}}}
]}
], "spacing": 45},
{"hconcat": [
{"spacing": 4, "vconcat": [
{"width": 276, "height": 218,
 "title": {"text": "C", "dx": -104, "offset": -4},
 "encoding": {"x": {"field": "day", "type": "nominal", "scale": {"domain": ["0","2","4","8"], "paddingInner": 0, "paddingOuter": 0}, "axis": {"title": "Days after enrollment", "labelAngle": 0, "offset": 19, "domain": true, "domainColor": "#333", "domainWidth": 1.8, "domainOpacity": 1, "ticks": false, "labelPadding": 5, "titlePadding": 5}}},
 "layer": [
  {"data": {"name": "boxes"}, "transform": [{"filter": "datum.panel === 'C'"}], "mark": {"type": "rule", "strokeWidth": 1.5},
   "encoding": {"xOffset": {"field": "group", "type": "nominal", "scale": {"paddingInner": 0, "paddingOuter": 0.5}},
    "y": {"field": "min", "type": "quantitative", "scale": {"domain": [0, 1500], "nice": false}, "axis": {"title": "sFlt-1/PlGF Ratio", "values": [0,500,1000,1500], "labelOverlap": false, "format": "d", "offset": 20, "tickSize": 6, "labelPadding": 2, "titlePadding": 20}},
    "y2": {"field": "max"},
    "color": {"field": "group", "type": "nominal", "title": null}}},
  {"data": {"name": "boxes"}, "transform": [{"filter": "datum.panel === 'C'"}, {"fold": ["min", "max"], "as": ["stat", "v"]}], "mark": {"type": "tick", "filled": false, "size": 11, "thickness": 0.1, "strokeWidth": 1.5},
   "encoding": {"xOffset": {"field": "group", "type": "nominal"}, "y": {"field": "v", "type": "quantitative"}, "color": {"field": "group", "type": "nominal", "title": null}}},
  {"data": {"name": "boxes"}, "transform": [{"filter": "datum.panel === 'C'"}], "mark": {"type": "bar", "filled": false, "fill": "white", "width": 22, "strokeWidth": 1.5},
   "encoding": {"xOffset": {"field": "group", "type": "nominal"}, "y": {"field": "q1", "type": "quantitative"}, "y2": {"field": "q3"}, "color": {"field": "group", "type": "nominal", "title": null}}},
  {"data": {"name": "boxes"}, "transform": [{"filter": "datum.panel === 'C'"}], "mark": {"type": "tick", "filled": false, "size": 22, "thickness": 0.1, "strokeWidth": 1.5},
   "encoding": {"xOffset": {"field": "group", "type": "nominal"}, "y": {"field": "median", "type": "quantitative"}, "color": {"field": "group", "type": "nominal", "title": null}}},
  {"data": {"name": "pts"}, "transform": [{"filter": "datum.panel === 'C'"}], "mark": {"type": "circle", "size": 32, "stroke": "#868686", "strokeWidth": 0.7, "opacity": 1},
   "encoding": {"xOffset": {"field": "group", "type": "nominal"}, "y": {"field": "value", "type": "quantitative"}, "fill": {"field": "group", "type": "nominal", "scale": {"range": ["#1f5566", "#b8651f"]}, "legend": null}}},
  {"data": {"name": "sig"}, "transform": [{"filter": "datum.panel === 'C'"}], "mark": {"type": "line", "color": "#222", "strokeWidth": 1.8},
   "encoding": {"xOffset": {"field": "group", "type": "nominal"}, "y": {"field": "value", "type": "quantitative"}, "order": {"field": "ord", "type": "quantitative"}}},
  {"data": {"name": "stars"}, "transform": [{"filter": "datum.panel === 'C'"}], "mark": {"type": "text", "fontSize": 16, "baseline": "alphabetic", "color": "#222"},
   "encoding": {"y": {"field": "value", "type": "quantitative"}, "text": {"field": "label"}}}
 ]},
{"width": 276, "height": {"step": 13.5},
 "data": {"name": "boxes"}, "transform": [{"filter": "datum.panel === 'C'"}],
 "mark": {"type": "text", "fontSize": 12, "color": "#222"},
 "encoding": {
  "x": {"field": "day", "type": "nominal", "scale": {"domain": ["0","2","4","8"], "paddingInner": 0, "paddingOuter": 0}, "axis": null},
  "y": {"field": "group", "type": "nominal", "axis": {"title": null, "domain": false, "ticks": false, "tickSize": 0, "labelFontWeight": "bold", "labelFontSize": 12.5, "labelPadding": 4, "labelExpr": "datum.label + ':'"}},
  "text": {"field": "nlabel"}}}
]},
{"spacing": 4, "vconcat": [
{"width": 276, "height": 218,
 "title": {"text": "D", "dx": -96, "offset": -4},
 "encoding": {"x": {"field": "day", "type": "nominal", "scale": {"domain": ["0","2","4","8"], "paddingInner": 0, "paddingOuter": 0}, "axis": {"title": "Days after enrollment", "labelAngle": 0, "offset": 19, "domain": true, "domainColor": "#333", "domainWidth": 1.8, "domainOpacity": 1, "ticks": false, "labelPadding": 5, "titlePadding": 5}}},
 "layer": [
  {"data": {"name": "boxes"}, "transform": [{"filter": "datum.panel === 'D'"}], "mark": {"type": "rule", "strokeWidth": 1.5},
   "encoding": {"xOffset": {"field": "group", "type": "nominal", "scale": {"paddingInner": 0, "paddingOuter": 0.5}},
    "y": {"field": "min", "type": "quantitative", "scale": {"domain": [0, 200], "nice": false}, "axis": {"title": "CT-proET-1 [pmol/L]", "values": [0,50,100,150,200], "labelOverlap": false, "format": "d", "offset": 18, "tickSize": 6, "labelPadding": 2, "titlePadding": 15}},
    "y2": {"field": "max"},
    "color": {"field": "group", "type": "nominal", "title": null}}},
  {"data": {"name": "boxes"}, "transform": [{"filter": "datum.panel === 'D'"}, {"fold": ["min", "max"], "as": ["stat", "v"]}], "mark": {"type": "tick", "filled": false, "size": 11, "thickness": 0.1, "strokeWidth": 1.5},
   "encoding": {"xOffset": {"field": "group", "type": "nominal"}, "y": {"field": "v", "type": "quantitative"}, "color": {"field": "group", "type": "nominal", "title": null}}},
  {"data": {"name": "boxes"}, "transform": [{"filter": "datum.panel === 'D'"}], "mark": {"type": "bar", "filled": false, "fill": "white", "width": 22, "strokeWidth": 1.5},
   "encoding": {"xOffset": {"field": "group", "type": "nominal"}, "y": {"field": "q1", "type": "quantitative"}, "y2": {"field": "q3"}, "color": {"field": "group", "type": "nominal", "title": null}}},
  {"data": {"name": "boxes"}, "transform": [{"filter": "datum.panel === 'D'"}], "mark": {"type": "tick", "filled": false, "size": 22, "thickness": 0.1, "strokeWidth": 1.5},
   "encoding": {"xOffset": {"field": "group", "type": "nominal"}, "y": {"field": "median", "type": "quantitative"}, "color": {"field": "group", "type": "nominal", "title": null}}},
  {"data": {"name": "pts"}, "transform": [{"filter": "datum.panel === 'D'"}], "mark": {"type": "circle", "size": 32, "stroke": "#868686", "strokeWidth": 0.7, "opacity": 1},
   "encoding": {"xOffset": {"field": "group", "type": "nominal"}, "y": {"field": "value", "type": "quantitative"}, "fill": {"field": "group", "type": "nominal", "scale": {"range": ["#1f5566", "#b8651f"]}, "legend": null}}}
 ]},
{"width": 276, "height": {"step": 13.5},
 "data": {"name": "boxes"}, "transform": [{"filter": "datum.panel === 'D'"}],
 "mark": {"type": "text", "fontSize": 12, "color": "#222"},
 "encoding": {
  "x": {"field": "day", "type": "nominal", "scale": {"domain": ["0","2","4","8"], "paddingInner": 0, "paddingOuter": 0}, "axis": null},
  "y": {"field": "group", "type": "nominal", "axis": null},
  "text": {"field": "nlabel"}}}
]}
], "spacing": 45}
],
"config": {
 "view": {"stroke": null},
 "font": "Liberation Sans",
 "range": {"category": ["#2d6b7b", "#db7b2e"]},
 "axis": {"labelFont": "Liberation Sans", "labelFontSize": 14.5, "labelColor": "#222", "labelOverlap": false, "titleFont": "Liberation Sans", "titleFontSize": 14, "titleFontWeight": "bold", "titleColor": "#222", "grid": false, "domain": true, "domainColor": "#333", "domainWidth": 1.5, "tickColor": "#333", "tickWidth": 1.5},
 "axisBand": {"domain": true, "domainColor": "#333", "domainWidth": 1.8},
 "axisX": {"domain": true},
 "legend": {"orient": "none", "legendX": -9, "legendY": -11, "symbolType": "M-1.33,-0.6H1.33V0.6H-1.33Z", "symbolSize": 225, "symbolStrokeWidth": 1.5, "symbolFillColor": "white", "labelFontSize": 14, "labelFont": "Liberation Sans", "labelColor": "#222", "rowPadding": -3, "labelOffset": 10, "padding": 0},
 "title": {"font": "Liberation Sans", "fontSize": 16, "fontWeight": "bold", "color": "#111", "anchor": "start", "frame": "group"}
}
}
